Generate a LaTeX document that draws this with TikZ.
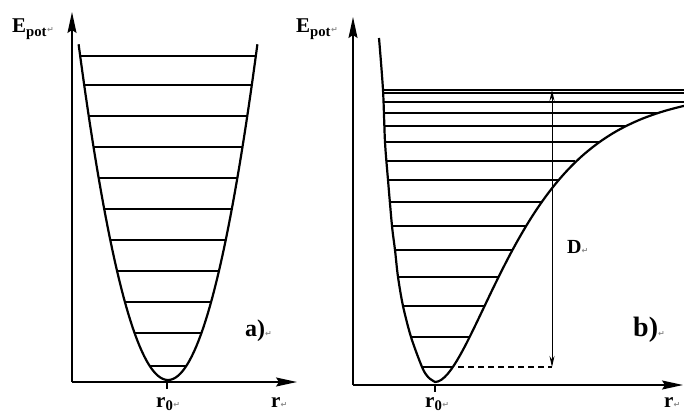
\documentclass[tikz,border=0pt]{standalone}
\usepackage{fontspec}
\setmainfont{Liberation Serif}
\newfontfamily\markfont{DejaVu Sans}
\usepackage{tikz}
\usetikzlibrary{arrows.meta}
\newcommand{\parmark}{{\markfont\fontsize{8}{8}\selectfont\color{black!45}↵}}
\tikzset{
  axis/.style={line width=1.5pt, -{Stealth[length=21pt,width=9pt,inset=3pt]}},
  curve/.style={line width=2.2pt, line join=round},
  level/.style={line width=1.3pt},
  tickmark/.style={line width=1.3pt},
  darr/.style={line width=1pt, {Stealth[length=11pt,width=5pt]}-{Stealth[length=11pt,width=5pt]}},
  dashline/.style={line width=1.3pt, dash pattern=on 6pt off 4pt},
  lbl/.style={anchor=base west, inner sep=0pt}
}

\begin{document}
\begin{tikzpicture}[x=1pt, y=-1pt, font=\bfseries\fontsize{21}{21}\selectfont]
  \useasboundingbox (0,0) rectangle (684,414);

  % a) harmonic potential
  \coordinate (oa) at (72,382);
  \coordinate (ya) at (72,12);
  \coordinate (xa) at (297,382);
  \draw[axis] (oa) -- (ya);
  \draw[axis] (oa) -- (xa);
  \draw[tickmark] (167,382) -- (167,389);
  \draw[curve] plot[domain=-89.4:89.4, samples=80] ({168+(\x)}, {380-0.042*(\x)^2});
  \foreach \y in {56,85,116,147,178,209,240,271,302,333,366}{
    \pgfmathsetmacro{\dx}{sqrt((380-\y)/0.042)}
    \draw[level] ({168-\dx},\y) -- ({168+\dx},\y);
  }

  % b) Morse potential
  \coordinate (ob) at (353,385);
  \coordinate (yb) at (353,17);
  \coordinate (xb) at (683,385);
  \draw[axis] (ob) -- (yb);
  \draw[axis] (ob) -- (xb);
  \draw[tickmark] (435,385) -- (435,392);
  \draw[curve] plot[smooth] coordinates {(379,38) (383,90) (385,142) (388,180) (392,226)
      (395,250) (398,277) (403,306) (411,337) (422,367) (428,377) (435,382)}
    -- plot[domain=435:684, samples=80] (\x, {382-292*(1-exp(-0.0144*(\x-435)))^2});
  \foreach \y/\xl in {90/383,93/383,102/383.5}{
    \draw[level] (\xl,\y) -- (684,\y);
  }
  \foreach \y/\xl in {113/384,126/384.5,142/385,161/386.5,180/388,202/390,226/392,
      250/395,277/398,306/403,337/411,367/422}{
    \pgfmathsetmacro{\xr}{435-ln(1-sqrt((382-\y)/292))/0.0144}
    \draw[level] (\xl,\y) -- (\xr,\y);
  }
  \coordinate (dtop) at (552,90);
  \coordinate (dbot) at (552,367);
  \coordinate (dstart) at (458,367);
  \draw[darr] (dbot) -- (dtop);
  \draw[dashline] (dstart) -- (dbot);

  % labels
  \node[lbl] (epota) at (12,33) {E\textsubscript{pot}\parmark};
  \node[lbl] (epotb) at (296,33) {E\textsubscript{pot}\parmark};
  \node[lbl] (r0a) at (156,407) {r\textsubscript{0}\parmark};
  \node[lbl] (ra) at (271,407) {r\parmark};
  \node[lbl] (r0b) at (425,407) {r\textsubscript{0}\parmark};
  \node[lbl] (rb) at (664,407) {r\parmark};
  \node[lbl, font=\bfseries\fontsize{20}{20}\selectfont] (dlab) at (567,253) {D\parmark};
  \node[lbl, font=\bfseries\fontsize{24}{24}\selectfont] (alab) at (245,336) {a)\parmark};
  \node[lbl, font=\bfseries\fontsize{28}{28}\selectfont] (blab) at (633,336) {b)\parmark};
\end{tikzpicture}
\end{document}
